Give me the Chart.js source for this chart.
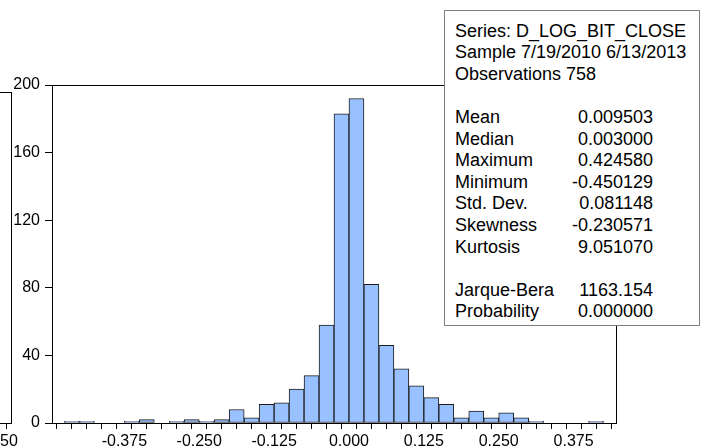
<!DOCTYPE html>
<html>
<head>
<meta charset="utf-8">
<script src="https://cdn.jsdelivr.net/npm/chart.js@4.4.1/dist/chart.umd.min.js"></script>
<style>
body { margin: 0; background: #fff; font-family: Arial, "Liberation Sans", sans-serif; }
#wrap { position: relative; width: 706px; height: 447px; overflow: hidden; }
#chart-area { position: absolute; left: 0; top: 0; }
#stats { position: absolute; left: 444px; top: 10px; width: 256px; height: 316px; background: #fff;
         border: 1px solid #7f7f7f; box-sizing: border-box; font-size: 18px; color: #000; }
#stats div { position: absolute; white-space: nowrap; line-height: 20px; }
#stats .l { left: 10px; }
#stats .v { right: 46px; text-align: right; }
#ghost { position: absolute; left: -2px; top: 92px; width: 14px; height: 332px; border: 1px solid #000; box-sizing: border-box; }
#ghostTick { position: absolute; left: 6px; top: 423px; width: 1px; height: 6px; background: #000; }
#ghostLbl { position: absolute; left: 0px; top: 432px; font-size: 16px; line-height: 18px; }
</style>
</head>
<body>
<div id="wrap">
    <canvas id="chart-area" width="706" height="447"></canvas>
    <div id="ghost"></div><div id="ghostTick"></div><div id="ghostLbl">50</div>
    <div id="stats"></div>
</div>

<script>
    // histogram: bins of 0.025 starting at -0.475
    var binStart = -0.475;
    var binWidth = 0.025;
    var binCounts = [1, 1, 0, 0, 1, 2, 0, 1, 2, 1, 2, 8, 3, 11, 12, 20, 28, 58, 183, 192,
                     82, 46, 32, 22, 15, 11, 3, 7, 3, 6, 3, 1, 0, 0, 0, 1];

    var xTickValues = [-0.375, -0.25, -0.125, 0, 0.125, 0.25, 0.375];
    var xTickLabels = ['-0.375', '-0.250', '-0.125', '0.000', '0.125', '0.250', '0.375'];
    var yTickLabels = ['0', '40', '80', '120', '160', '200'];

    // stats box rows: [label, value]; empty rows are spacers
    var statLabels = ['Series: D_LOG_BIT_CLOSE', 'Sample 7/19/2010 6/13/2013', 'Observations 758', '',
                      'Mean', 'Median', 'Maximum', 'Minimum', 'Std. Dev.', 'Skewness', 'Kurtosis', '',
                      'Jarque-Bera', 'Probability'];
    var statValues = ['', '', '', '',
                      '0.009503', '0.003000', '0.424580', '-0.450129', '0.081148', '-0.230571', '9.051070', '',
                      '1163.154', '0.000000'];

    var box = document.getElementById('stats');
    var firstRow = 30.6, rowStep = 21.6;
    var addText = function(cls, y, t) {
        var d = document.createElement('div');
        d.className = cls;
        d.style.top = (y - 10 - 11) + 'px';
        d.textContent = t;
        box.appendChild(d);
    };
    statLabels.forEach(function(t, i) {
        var y = firstRow + rowStep * i;
        if (t) addText('l', y, t);
        if (statValues[i]) addText('v', y, statValues[i]);
    });

    var points = binCounts.map(function(c, i) {
        return { x: binStart + binWidth * (i + 0.5), y: c };
    });

    var frame = {
        id: 'frame',
        afterDatasetsDraw: function(chart) {
            var a = chart.chartArea, ctx = chart.ctx;
            ctx.save();
            ctx.strokeStyle = '#000';
            ctx.lineWidth = 1;
            ctx.strokeRect(Math.round(a.left) + 0.5, Math.round(a.top) + 0.5,
                           Math.round(a.right - a.left), Math.round(a.bottom - a.top));
            ctx.restore();
        }
    };

    Chart.defaults.font.family = 'Arial, "Liberation Sans", sans-serif';
    Chart.defaults.color = '#000';

    var config = {
        type: 'bar',
        data: {
            datasets: [{
                data: points,
                backgroundColor: '#99c1ff',
                borderColor: '#1c1c1c',
                borderWidth: 1,
                borderSkipped: false,
                barPercentage: 1,
                categoryPercentage: 1
            }]
        },
        options: {
            responsive: false,
            animation: false,
            events: [],
            layout: { padding: { left: 0, top: 85, right: 90, bottom: 0 } },
            plugins: { legend: { display: false }, tooltip: { enabled: false } },
            scales: {
                x: {
                    type: 'linear',
                    min: -0.4831,
                    max: 0.4331,
                    afterFit: function(s) { s.height = 24; },
                    afterBuildTicks: function(s) {
                        var t = [];
                        for (var i = 0; i <= binCounts.length; i++) t.push({ value: binStart + binWidth * i });
                        s.ticks = t;
                    },
                    grid: { drawOnChartArea: false, drawTicks: true, tickLength: 6, color: '#000' },
                    border: { color: '#000' },
                    ticks: {
                        autoSkip: false,
                        maxRotation: 0,
                        padding: 3,
                        font: { size: 16 },
                        callback: function(v) {
                            for (var i = 0; i < xTickValues.length; i++) {
                                if (Math.abs(v - xTickValues[i]) < 1e-6) return xTickLabels[i];
                            }
                            return '';
                        }
                    }
                },
                y: {
                    min: 0,
                    max: 200,
                    afterFit: function(s) { s.width = 52; },
                    grid: { drawOnChartArea: false, drawTicks: true, tickLength: 7, color: '#000' },
                    border: { color: '#000' },
                    ticks: {
                        stepSize: 40,
                        padding: 5,
                        font: { size: 16 },
                        callback: function(v, i) { return yTickLabels[i]; }
                    }
                }
            }
        },
        plugins: [frame]
    };

    var ctx = document.getElementById('chart-area').getContext('2d');
    window.myHist = new Chart(ctx, config);
</script>
</body>
</html>
